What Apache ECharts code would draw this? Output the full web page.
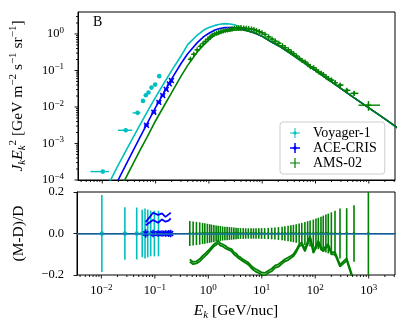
<!DOCTYPE html>
<html><head><meta charset="utf-8">
<script src="https://cdn.jsdelivr.net/npm/echarts@6/dist/echarts.min.js"></script>
<style>html,body{margin:0;padding:0;background:#fff}#c{width:407px;height:323px}</style>
</head><body><div id="c"></div>
<script>
// ---------- data ----------
const modelE   = [0.01,0.015,0.02,0.03,0.05,0.07,0.1,0.15,0.2,0.3,0.4,0.6,0.8,1.0,1.3,1.6,2.0,2.5,3.0,4.0,5.0,6.0,7.0,10,15,22,30,50,100,200,500,1000,2000,4000];
const modelVoy = [3.6e-5,1.15e-4,2.6e-4,7.8e-4,3.1e-3,7.5e-3,0.0187,0.050,0.099,0.25,0.51,0.92,1.28,1.5,1.72,1.85,1.92,1.88,1.78,1.52,1.32,1.18,1.09,0.86,0.6,0.445,0.33,0.2,0.1,0.049,0.019,0.0095,0.0047,0.0023];
const modelACE = [1.4e-5,4.2e-5,1.03e-4,3.3e-4,1.41e-3,3.6e-3,9.7e-3,0.028,0.059,0.155,0.286,0.57,0.85,1.05,1.28,1.42,1.49,1.50,1.47,1.40,1.26,1.15,1.08,0.86,0.6,0.445,0.33,0.2,0.1,0.049,0.019,0.0095,0.0047,0.0023];
const modelAMS = [5.6e-6,1.9e-5,4.5e-5,1.45e-4,6.2e-4,1.55e-3,4.2e-3,0.0119,0.0247,0.07,0.138,0.316,0.50,0.69,0.94,1.07,1.17,1.23,1.28,1.30,1.23,1.15,1.09,0.86,0.6,0.445,0.33,0.2,0.1,0.049,0.019,0.0095,0.0047,0.0023];

const vgE   = [0.0102,0.0275,0.0458,0.058,0.0655,0.0736,0.0837,0.098,0.117];
const vgV   = [1.7e-4,2.3e-3,6.9e-3,0.0147,0.021,0.025,0.034,0.041,0.070];
const vgLo  = [0.006,0.0196,0.037,0.053,0.061,0.069,0.079,0.091,0.108];
const vgHi  = [0.0133,0.0365,0.052,0.062,0.070,0.078,0.089,0.105,0.126];
const vgErr = [0.185,0.127,0.125,0.115,0.12,0.115,0.11,0.11,0.11];

const aceE   = [0.0675,0.0925,0.115,0.136,0.158,0.181,0.198];
const aceV   = [3.15e-3,7.2e-3,0.0134,0.0206,0.0303,0.043,0.053];
const aceLo  = [0.061,0.084,0.104,0.124,0.144,0.166,0.183];
const aceHi  = [0.074,0.101,0.126,0.149,0.172,0.196,0.213];
const aceErr = [0.02,0.018,0.016,0.016,0.016,0.017,0.018];
const aceRes1 = [0.055,0.10,0.09,0.097,0.08,0.092,0.10];
const aceRes2 = [0.04,0.065,0.052,0.068,0.057,0.062,0.073];

const amsE = [0.45,0.52,0.60,0.69,0.78,0.86,0.96,1.06,1.15,1.27,1.40,1.53,1.68,1.85,2.04,2.25,2.48,2.72,3.0,3.3,3.6,4.0,4.5,5.0,5.6,6.3,7.0,7.8,8.8,9.9,11.3,13.2,15.3,17.6,20.5,24,27,31,35,39,44,50,56,64,72,80,92,103,114,128,141,158,175,200,234,290,387,531,985];
const amsEdges = [0.42,0.485,0.56,0.645,0.735,0.82,0.91,1.01,1.1,1.21,1.33,1.46,1.6,1.76,1.94,2.14,2.36,2.6,2.86,3.15,3.45,3.8,4.25,4.75,5.3,5.95,6.65,7.4,8.3,9.35,10.6,12.2,14.2,16.4,19,22.2,25.5,29,33,37,41.5,47,53,60,68,76,86,97.5,108,121,134,149,166,187,217,260,335,450,640,1630];
const amsV = [0.203,0.277,0.369,0.458,0.547,0.625,0.723,0.82,0.911,1.0,1.05,1.095,1.16,1.21,1.27,1.30,1.34,1.38,1.42,1.44,1.47,1.49,1.46,1.43,1.40,1.365,1.32,1.24,1.16,1.08,0.972,0.833,0.725,0.635,0.558,0.477,0.422,0.368,0.322,0.287,0.249,0.213,0.188,0.171,0.146,0.127,0.119,0.104,0.0915,0.0839,0.0769,0.0671,0.0599,0.0544,0.0463,0.0398,0.0285,0.0236,0.0112];
const amsErr = [0.060,0.058,0.056,0.054,0.051,0.049,0.047,0.045,0.043,0.041,0.039,0.037,0.036,0.034,0.033,0.032,0.031,0.030,0.029,0.028,0.027,0.026,0.026,0.025,0.025,0.025,0.025,0.025,0.025,0.026,0.026,0.027,0.028,0.029,0.031,0.033,0.035,0.037,0.040,0.042,0.045,0.048,0.051,0.055,0.059,0.063,0.067,0.072,0.076,0.081,0.086,0.091,0.096,0.102,0.110,0.120,0.122,0.136,0.30];
const amsRes1 = [-0.136,-0.148,-0.144,-0.135,-0.12,-0.11,-0.098,-0.085,-0.078,-0.062,-0.055,-0.046,-0.058,-0.062,-0.07,-0.075,-0.08,-0.086,-0.1,-0.108,-0.118,-0.125,-0.135,-0.142,-0.15,-0.165,-0.176,-0.185,-0.19,-0.199,-0.205,-0.19,-0.182,-0.166,-0.16,-0.145,-0.134,-0.128,-0.118,-0.11,-0.09,-0.062,-0.054,-0.086,-0.05,-0.02,-0.094,-0.07,-0.046,-0.075,-0.086,-0.07,-0.062,-0.1,-0.1,-0.16,-0.13,-0.24,null];
const amsRes2 = [-0.125,-0.137,-0.134,-0.123,-0.108,-0.099,-0.086,-0.075,-0.066,-0.052,-0.045,-0.035,-0.047,-0.052,-0.058,-0.066,-0.072,-0.075,-0.09,-0.096,-0.108,-0.115,-0.126,-0.133,-0.14,-0.155,-0.165,-0.172,-0.18,-0.188,-0.19,-0.18,-0.17,-0.155,-0.148,-0.135,-0.124,-0.116,-0.108,-0.1,-0.08,-0.052,-0.044,-0.074,-0.04,-0.012,-0.082,-0.06,-0.036,-0.064,-0.076,-0.06,-0.052,-0.09,-0.09,-0.15,-0.12,-0.23,null];

const xMajorTicks = [0.01,0.1,1,10,100,1000];
const yMajorTicks = [1e-4,1e-3,1e-2,1e-1,1];
const resTicks = [-0.2,0.0,0.2];
const seriesNames = ['Voyager-1','ACE-CRIS','AMS-02'];
const panelLabel = 'B';

// ---------- style ----------
const FONT = 'Liberation Serif';
const C_VOY = '#00bfbf', C_ACE = '#0000ff', C_AMS = '#008000', C_ZERO = '#1f77b4';
const X_MIN = 0.0035, X_MAX = 3100, Y_MIN = 1e-4, Y_MAX = 4;
const TITLE = 15.5, TICK = 12.5;

function minorList(lo, hi) {
  const out = [];
  for (let k = -5; k <= 4; k++) for (let m = 2; m <= 9; m++) {
    const v = m * Math.pow(10, k);
    if (v > lo && v < hi) out.push(v);
  }
  return out;
}

function errItem(color, marker, lw, ms) {
  return function (params, api) {
    const x = api.value(0), y = api.value(1);
    const p = api.coord([x, y]);
    const pl = api.coord([api.value(2), y]), ph = api.coord([api.value(3), y]);
    const pb = api.coord([x, api.value(4)]), pt = api.coord([x, api.value(5)]);
    const st = { stroke: color, lineWidth: lw, fill: null };
    const ch = [
      { type: 'line', shape: { x1: pl[0], y1: p[1], x2: ph[0], y2: p[1] }, style: st },
      { type: 'line', shape: { x1: p[0], y1: pb[1], x2: p[0], y2: pt[1] }, style: st }
    ];
    if (marker === 'o') ch.push({ type: 'circle', shape: { cx: p[0], cy: p[1], r: ms }, style: { fill: color } });
    if (marker === 'x') {
      ch.push({ type: 'line', shape: { x1: p[0]-ms, y1: p[1]-ms, x2: p[0]+ms, y2: p[1]+ms }, style: st });
      ch.push({ type: 'line', shape: { x1: p[0]-ms, y1: p[1]+ms, x2: p[0]+ms, y2: p[1]-ms }, style: st });
    }
    if (marker === '+') {
      ch.push({ type: 'line', shape: { x1: p[0]-ms, y1: p[1], x2: p[0]+ms, y2: p[1] }, style: st });
      ch.push({ type: 'line', shape: { x1: p[0], y1: p[1]-ms, x2: p[0], y2: p[1]+ms }, style: st });
    }
    return { type: 'group', children: ch };
  };
}

function tickItem(dir) {
  return function (params, api) {
    const p = api.coord([api.value(0), api.value(1)]);
    const len = api.value(2) ? 3.5 : 2;
    const sh = dir === 'x' ? { x1: p[0], y1: p[1], x2: p[0], y2: p[1] + len }
                           : { x1: p[0], y1: p[1], x2: p[0] - len, y2: p[1] };
    return { type: 'line', shape: sh, style: { stroke: '#000', lineWidth: 0.9 } };
  };
}

function powLabel(v) {
  const l = Math.log10(v), r = Math.round(l);
  if (Math.abs(l - r) > 1e-6) return '';
  return '{b|10}{s|' + (r < 0 ? '\u2212' + (-r) : r) + '}';
}
const powRich = {
  b: { fontFamily: FONT, fontSize: TICK, lineHeight: 16, color: '#000' },
  s: { fontFamily: FONT, fontSize: 9, lineHeight: 9, verticalAlign: 'top', color: '#000' }
};
const titleRich = {
  i: { fontFamily: FONT, fontStyle: 'italic', fontSize: TITLE, lineHeight: 20, color: '#000' },
  sub: { fontFamily: FONT, fontStyle: 'italic', fontSize: 11, lineHeight: 11, verticalAlign: 'bottom', color: '#000' },
  sup: { fontFamily: FONT, fontSize: 11, lineHeight: 11, verticalAlign: 'top', color: '#000' },
  r: { fontFamily: FONT, fontSize: TITLE, lineHeight: 20, color: '#000' }
};

// ---------- build series data ----------
const vgTop  = vgE.map((e, i) => [e, vgV[i], vgLo[i], vgHi[i], vgV[i]*(1 - 0.05), vgV[i]*(1 + 0.05)]);
const aceTop = aceE.map((e, i) => [e, aceV[i], aceLo[i], aceHi[i], aceV[i]*(1 - aceErr[i]*4), aceV[i]*(1 + aceErr[i]*4)]);
const amsTop = amsE.map((e, i) => [e, amsV[i], amsEdges[i], amsEdges[i+1], amsV[i]*(1 - amsErr[i]), amsV[i]*(1 + amsErr[i])]);
const vgBot  = vgE.map((e, i) => [e, 0, e, e, -vgErr[i], vgErr[i]]);
const aceBot = aceE.map((e, i) => [e, 0, e, e, -aceErr[i], aceErr[i]]);
const amsBot = amsE.map((e, i) => [e, 0, e, e, -amsErr[i], amsErr[i]]);
const pairs = (xs, ys) => xs.map((x, i) => [x, ys[i]]).filter(d => d[1] !== null);

const xMinor = minorList(X_MIN, X_MAX), yMinor = minorList(Y_MIN, Y_MAX);
const xTicksTop = xMajorTicks.map(v => [v, Y_MIN, 1]).concat(xMinor.map(v => [v, Y_MIN, 0]));
const yTicksTop = yMajorTicks.map(v => [X_MIN, v, 1]).concat(yMinor.map(v => [X_MIN, v, 0]));
const xTicksBot = xMajorTicks.map(v => [v, -0.2, 1]).concat(xMinor.map(v => [v, -0.2, 0]));

const chart = echarts.init(document.getElementById('c'), null, { renderer: 'canvas' });
const common = { silent: true, animation: false };
chart.setOption({
  animation: false,
  textStyle: { fontFamily: FONT },
  grid: [
    { left: 77, top: 12, width: 318, height: 168, show: true, borderColor: '#000', borderWidth: 1, backgroundColor: 'transparent' },
    { left: 77, top: 192, width: 318, height: 83, show: true, borderColor: '#000', borderWidth: 1, backgroundColor: 'transparent' }
  ],
  xAxis: [
    { type: 'log', logBase: 10, gridIndex: 0, min: X_MIN, max: X_MAX,
      axisLine: { show: true, lineStyle: { color: '#000', width: 1 } }, axisTick: { show: false },
      axisLabel: { show: false }, splitLine: { show: false }, minorTick: { show: false } },
    { type: 'log', logBase: 10, gridIndex: 1, min: X_MIN, max: X_MAX,
      axisLine: { show: true, lineStyle: { color: '#000', width: 1 } }, axisTick: { show: false },
      axisLabel: { show: true, margin: 8, formatter: powLabel, rich: powRich },
      splitLine: { show: false },
      name: '{i|E}{sub|k}{r| [GeV/nuc]}', nameLocation: 'middle', nameGap: 26,
      nameTextStyle: { rich: titleRich } }
  ],
  yAxis: [
    { type: 'log', logBase: 10, gridIndex: 0, min: Y_MIN, max: Y_MAX,
      axisLine: { show: true, lineStyle: { color: '#000', width: 1 } }, axisTick: { show: false },
      axisLabel: { show: true, margin: 14, formatter: powLabel, rich: powRich },
      splitLine: { show: false },
      name: '{i|J}{sub|k}{i|E}{sub|k}{sup|2}{r| [GeV m}{sup|\u22122}{r| s}{sup|\u22121}{r| sr}{sup|\u22121}{r|]}',
      nameLocation: 'middle', nameGap: 50, nameRotate: 90,
      nameTextStyle: { rich: titleRich } },
    { type: 'value', gridIndex: 1, min: -0.2, max: 0.2, interval: 0.2,
      axisLine: { show: true, lineStyle: { color: '#000', width: 1 } },
      axisTick: { show: true, length: 3.5, lineStyle: { color: '#000', width: 0.9 } },
      axisLabel: { show: true, margin: 13, color: '#000', fontFamily: FONT, fontSize: TICK,
        formatter: v => (v < 0 ? '\u2212' : '') + Math.abs(v).toFixed(1) },
      splitLine: { show: false },
      name: '(M-D)/D', nameLocation: 'middle', nameGap: 50, nameRotate: 90,
      nameTextStyle: { fontFamily: FONT, fontSize: TITLE, color: '#000' } }
  ],
  legend: {
    left: 280, top: 122, orient: 'vertical', itemWidth: 26, itemHeight: 10, itemGap: 1,
    padding: [4, 8, 4, 10], backgroundColor: 'rgba(255,255,255,0.8)', borderColor: '#cccccc', borderWidth: 1, borderRadius: 3,
    textStyle: { fontFamily: FONT, fontSize: 14, lineHeight: 14, color: '#000' },
    selectedMode: false,
    data: [
      { name: seriesNames[0], icon: 'path://M0,4.5h10v1h-10z M4.5,0h1v10h-1z M3.3,5a1.7,1.7 0 1,1 3.4,0a1.7,1.7 0 1,1 -3.4,0z' },
      { name: seriesNames[1], icon: 'path://M0,4.25h10v1.5h-10z M4.25,0h1.5v10h-1.5z M5,2.6L7.4,5L5,7.4L2.6,5z' },
      { name: seriesNames[2], icon: 'path://M0,4.4h10v1.2h-10z M4.4,0h1.2v10h-1.2z' }
    ]
  },
  graphic: [
    { type: 'text', left: 93, top: 15, style: { text: panelLabel, fontFamily: FONT, fontSize: 14, fill: '#000' } }
  ],
  series: [
    { type: 'line', name: 'modelVoy', xAxisIndex: 0, yAxisIndex: 0, data: pairs(modelE, modelVoy), showSymbol: false, symbol: 'none', clip: true, lineStyle: { color: C_VOY, width: 1.6 }, z: 2, ...common },
    { type: 'line', name: 'modelACE', xAxisIndex: 0, yAxisIndex: 0, data: pairs(modelE, modelACE), showSymbol: false, symbol: 'none', clip: true, lineStyle: { color: C_ACE, width: 1.6 }, z: 2, ...common },
    { type: 'line', name: 'modelAMS', xAxisIndex: 0, yAxisIndex: 0, data: pairs(modelE, modelAMS), showSymbol: false, symbol: 'none', clip: true, lineStyle: { color: C_AMS, width: 1.6 }, z: 2, ...common },
    { type: 'custom', name: seriesNames[0], xAxisIndex: 0, yAxisIndex: 0, data: vgTop, encode: { x: 0, y: 1 }, renderItem: errItem(C_VOY, 'o', 1.4, 2.3), itemStyle: { color: C_VOY }, clip: true, z: 3, ...common },
    { type: 'custom', name: seriesNames[1], xAxisIndex: 0, yAxisIndex: 0, data: aceTop, encode: { x: 0, y: 1 }, renderItem: errItem(C_ACE, 'x', 1.6, 2.4), itemStyle: { color: C_ACE }, clip: true, z: 3, ...common },
    { type: 'custom', name: seriesNames[2], xAxisIndex: 0, yAxisIndex: 0, data: amsTop, encode: { x: 0, y: 1 }, renderItem: errItem(C_AMS, '+', 1.4, 2.6), itemStyle: { color: C_AMS }, clip: true, z: 4, ...common },
    { type: 'line', name: 'zero', xAxisIndex: 1, yAxisIndex: 1, data: [], z: 1, ...common,
      markLine: { silent: true, symbol: 'none', label: { show: false }, lineStyle: { color: C_ZERO, width: 1.5, type: 'solid' }, data: [{ yAxis: 0 }] } },
    { type: 'custom', name: seriesNames[0], xAxisIndex: 1, yAxisIndex: 1, data: vgBot, encode: { x: 0, y: 1 }, renderItem: errItem(C_VOY, 'o', 1.6, 2.2), itemStyle: { color: C_VOY }, clip: true, z: 3, ...common },
    { type: 'custom', name: seriesNames[1], xAxisIndex: 1, yAxisIndex: 1, data: aceBot, encode: { x: 0, y: 1 }, renderItem: errItem(C_ACE, 'x', 1.6, 2.4), itemStyle: { color: C_ACE }, clip: true, z: 3, ...common },
    { type: 'custom', name: seriesNames[2], xAxisIndex: 1, yAxisIndex: 1, data: amsBot, encode: { x: 0, y: 1 }, renderItem: errItem(C_AMS, '+', 1.6, 1.5), itemStyle: { color: C_AMS }, clip: true, z: 3, ...common },
    { type: 'line', name: 'aceRes1', xAxisIndex: 1, yAxisIndex: 1, data: pairs(aceE, aceRes1), showSymbol: false, symbol: 'none', clip: true, lineStyle: { color: C_ACE, width: 1.8 }, z: 4, ...common },
    { type: 'line', name: 'aceRes2', xAxisIndex: 1, yAxisIndex: 1, data: pairs(aceE, aceRes2), showSymbol: false, symbol: 'none', clip: true, lineStyle: { color: C_ACE, width: 1.8 }, z: 4, ...common },
    { type: 'line', name: 'amsRes1', xAxisIndex: 1, yAxisIndex: 1, data: pairs(amsE, amsRes1), showSymbol: false, symbol: 'none', clip: true, lineStyle: { color: C_AMS, width: 1.8 }, z: 4, ...common },
    { type: 'line', name: 'amsRes2', xAxisIndex: 1, yAxisIndex: 1, data: pairs(amsE, amsRes2), showSymbol: false, symbol: 'none', clip: true, lineStyle: { color: C_AMS, width: 1.8 }, z: 4, ...common },
    { type: 'custom', name: 'xt0', xAxisIndex: 0, yAxisIndex: 0, data: xTicksTop, encode: { x: 0, y: 1 }, renderItem: tickItem('x'), clip: false, z: 5, ...common },
    { type: 'custom', name: 'yt0', xAxisIndex: 0, yAxisIndex: 0, data: yTicksTop, encode: { x: 0, y: 1 }, renderItem: tickItem('y'), clip: false, z: 5, ...common },
    { type: 'custom', name: 'xt1', xAxisIndex: 1, yAxisIndex: 1, data: xTicksBot, encode: { x: 0, y: 1 }, renderItem: tickItem('x'), clip: false, z: 5, ...common }
  ]
});
</script></body></html>
